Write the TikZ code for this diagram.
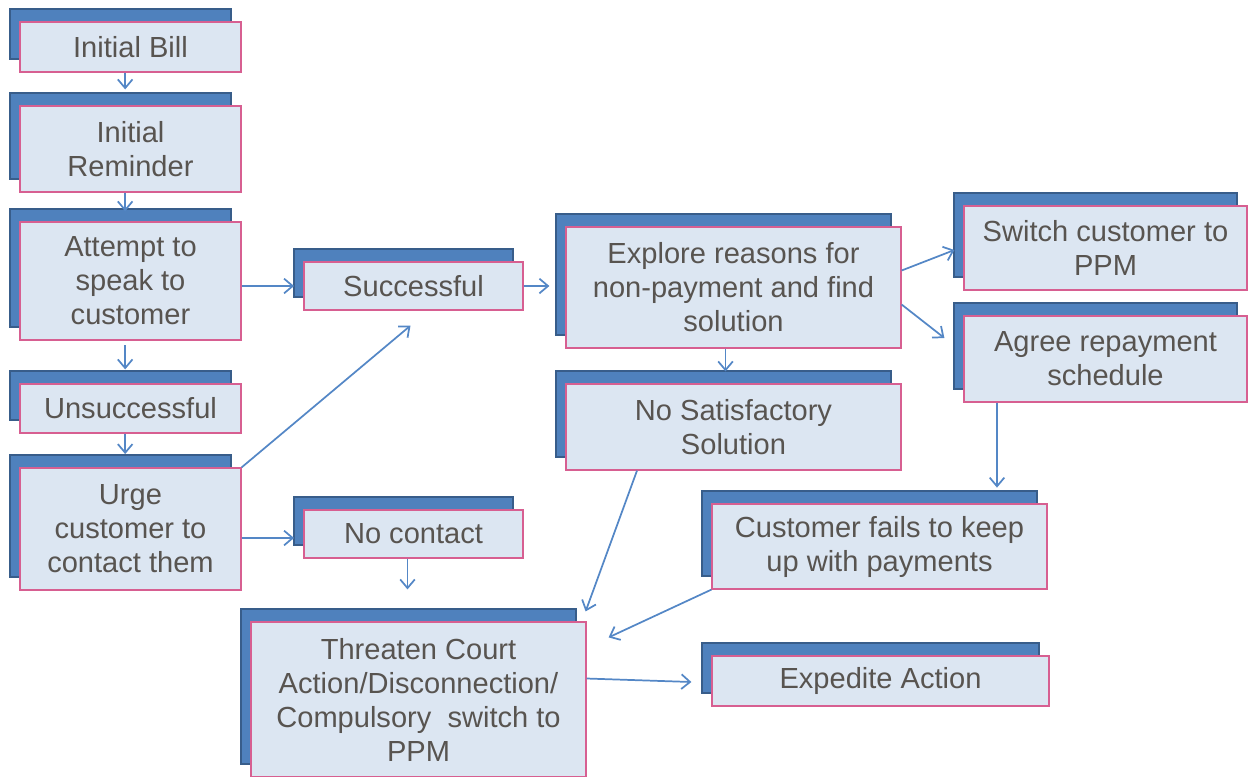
\documentclass[tikz,border=0pt]{standalone}
\usepackage{fontspec}
\setmainfont{Liberation Sans}
\usetikzlibrary{shadows,arrows.meta,calc}
\definecolor{cardfill}{RGB}{220,230,242}
\definecolor{cardedge}{RGB}{215,95,145}
\definecolor{backfill}{RGB}{79,129,189}
\definecolor{backedge}{RGB}{56,93,138}
\definecolor{linkblue}{RGB}{84,135,198}
\definecolor{textgray}{RGB}{88,84,80}
\tikzset{
  card/.style={draw=cardedge, fill=cardfill, line width=0.9pt, align=center,
    text=textgray, inner sep=0pt, font=\fontsize{21.8}{25.5}\selectfont,
    general shadow={shadow xshift=-7.5pt, shadow yshift=9.5pt, fill=backfill,
      draw=backedge, line width=1.6pt, rounded corners=1.5pt}},
  wh/.style 2 args={minimum width=#1*0.75pt, minimum height=#2*0.75pt},
  link/.style={draw=linkblue, line width=1.3pt, -{Straight Barb[length=6.5pt,width=11pt]}}
}
\begin{document}
\begin{tikzpicture}[x=0.75pt, y=-0.75pt]
\useasboundingbox (0,0) rectangle (1253,776);
% left column
\node[card, wh={221}{50}] (bill) at (130.5,47) {Initial Bill};
\node[card, wh={221}{86}] (remind) at (130.5,149) {Initial\\Reminder};
\node[card, wh={221}{118}] (attempt) at (130.5,281) {Attempt to\\speak to\\customer};
\node[card, wh={221}{49}] (unsucc) at (130.5,408.5) {Unsuccessful};
\node[card, wh={221}{122}] (urge) at (130.5,529) {Urge\\customer to\\contact them};
% middle
\node[card, wh={219}{48}] (success) at (413.5,286) {Successful};
\node[card, wh={219}{48}] (nocontact) at (413.5,534) {No contact};
\node[card, wh={335}{121}] (explore) at (733.5,287.5) {Explore reasons for\\non-payment and find\\solution};
\node[card, wh={335}{86}] (nosat) at (733.5,427) {No Satisfactory\\Solution};
\node[card, wh={335}{155}] (threaten) at (418.5,699.5) {Threaten Court\\Action/Disconnection/\\Compulsory\ \ switch to\\PPM};
% right
\node[card, wh={283}{84}] (switch) at (1105.5,248) {Switch customer to\\PPM};
\node[card, wh={283}{86}] (agree) at (1105.5,359) {Agree repayment\\schedule};
\node[card, wh={335}{85}] (fails) at (879.5,546.5) {Customer fails to keep\\up with payments};
\node[card, wh={337}{50}] (expedite) at (880.5,681) {Expedite Action};
% connectors
\draw[link, shorten >=12pt] ([xshift=-4pt]bill.south) -- ([xshift=-4pt]remind.north);
\draw[link, shorten >=7.5pt] ([xshift=-4pt]remind.south) -- ([xshift=-4pt]attempt.north);
\draw[link, shorten <=3.5pt, shorten >=10.5pt] ([xshift=-4pt]attempt.south) -- ([xshift=-4pt]unsucc.north);
\draw[link, shorten >=10pt] ([xshift=-4pt]unsucc.south) -- ([xshift=-4pt]urge.north);
\draw[link, shorten >=7pt] (attempt.east |- success) -- (success.west);
\draw[link] (urge.north east) -- ($(success.south)+(-3,15)$);
\draw[link, shorten >=7pt] ($(urge.east)+(0,9)$) -- ($(nocontact.west)+(0,4)$);
\draw[link, shorten >=24pt] ([xshift=-4.5pt]nocontact.south) -- ([xshift=-4.5pt]nocontact.south |- threaten.north);
\draw[link, shorten >=12pt] (success.east) -- (success.east -| explore.west);
\draw[link] ($(explore.east)+(0,-17)$) -- ($(switch.west)+(-9,2)$);
\draw[link] ($(explore.east)+(0,17)$) -- ($(agree.west)+(-19,-21)$);
\draw[link, shorten >=9pt] ([xshift=-6pt]explore.south) -- ([xshift=-6pt]explore.south |- nosat.north);
\draw[link] ($(nosat.south)+(-96.5,0)$) -- ($(threaten.north east)+(-1,-10)$);
\draw[link] ($(agree.south)+(-108.5,0)$) -- ($(agree.south)+(-108.5,85)$);
\draw[link] (fails.south west) -- ($(threaten.north east)+(22,16)$);
\draw[link] ($(threaten.east)+(0,-21)$) -- ($(expedite.west)+(-20,1)$);
\end{tikzpicture}
\end{document}
